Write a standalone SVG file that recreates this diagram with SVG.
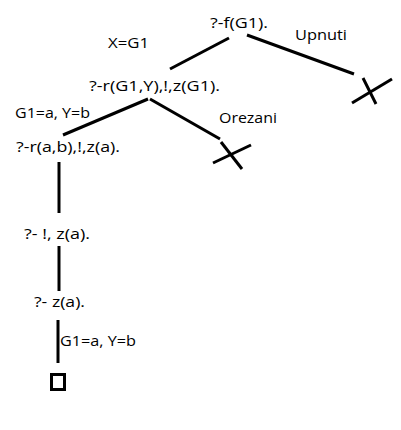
<svg xmlns="http://www.w3.org/2000/svg" width="401" height="430" viewBox="0 0 401 430">
<style>
text{font-family:"Open Sans","Liberation Sans",sans-serif;font-size:15px;fill:#000}
.e{stroke:#000;stroke-width:3;fill:none;stroke-linecap:butt}
</style>
<rect width="401" height="430" fill="#fff"/>
<g id="edges">
<line class="e" x1="229" y1="38" x2="170" y2="69"/>
<line class="e" x1="247" y1="35" x2="354" y2="74"/>
<line class="e" x1="148" y1="99" x2="63" y2="135"/>
<line class="e" x1="150" y1="99" x2="220" y2="139"/>
<line class="e" x1="59" y1="162" x2="59" y2="213"/>
<line class="e" x1="59" y1="246" x2="59" y2="291"/>
<line class="e" x1="58" y1="320" x2="58" y2="363"/>
</g>
<g id="labels">
<text x="108" y="48" textLength="41" lengthAdjust="spacingAndGlyphs">X=G1</text>
<text x="295" y="40" textLength="52" lengthAdjust="spacingAndGlyphs">Upnuti</text>
<text x="15" y="118" textLength="75" lengthAdjust="spacingAndGlyphs">G1=a, Y=b</text>
<text x="219" y="123" textLength="58" lengthAdjust="spacingAndGlyphs">Orezani</text>
<text x="60" y="346" textLength="76" lengthAdjust="spacingAndGlyphs">G1=a, Y=b</text>
</g>
<g id="n-root"><text x="210" y="28" textLength="58" lengthAdjust="spacingAndGlyphs">?-f(G1).</text></g>
<g id="n-fail1">
<line class="e" x1="363" y1="78" x2="376" y2="104"/>
<line class="e" x1="392" y1="79" x2="352" y2="103"/>
</g>
<g id="n-r"><text x="89" y="91" textLength="131" lengthAdjust="spacingAndGlyphs">?-r(G1,Y),!,z(G1).</text></g>
<g id="n-fail2">
<line class="e" x1="221" y1="142" x2="242" y2="169"/>
<line class="e" x1="251" y1="145" x2="213" y2="163"/>
</g>
<g id="n-rab"><text x="16" y="152" textLength="104" lengthAdjust="spacingAndGlyphs">?-r(a,b),!,z(a).</text></g>
<g id="n-cut"><text x="24" y="239" textLength="66" lengthAdjust="spacingAndGlyphs">?- !, z(a).</text></g>
<g id="n-z"><text x="34" y="307" textLength="51" lengthAdjust="spacingAndGlyphs">?- z(a).</text></g>
<g id="n-success"><rect x="51.5" y="374.5" width="13" height="15" fill="none" stroke="#000" stroke-width="3"/></g>
</svg>
